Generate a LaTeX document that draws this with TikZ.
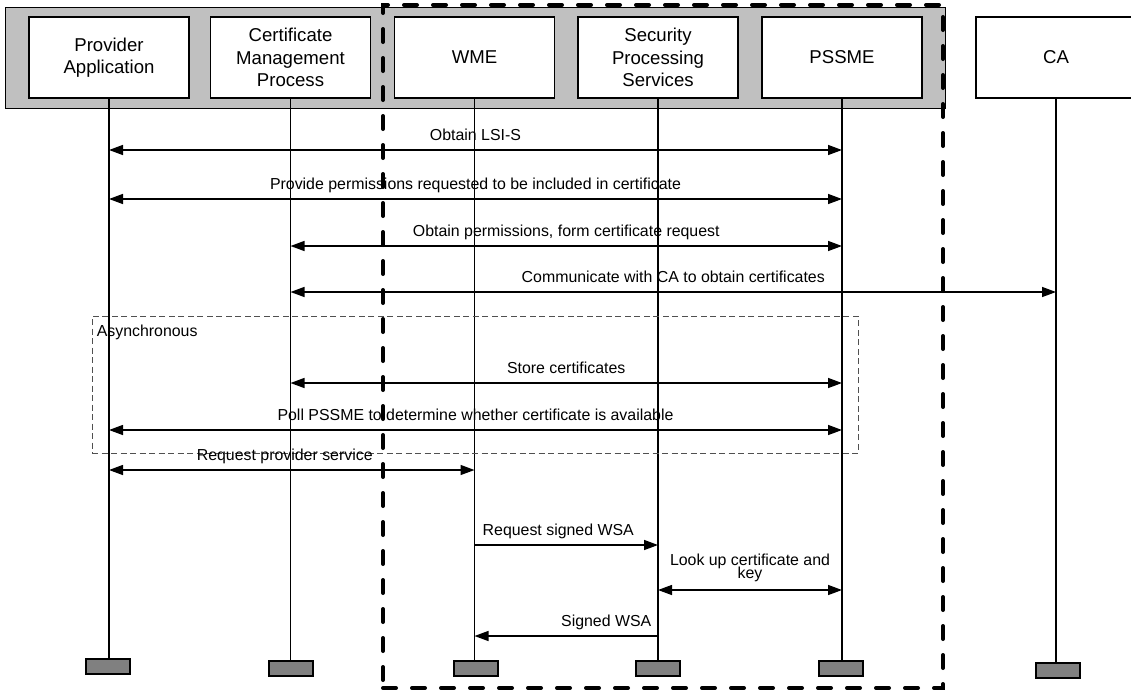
\documentclass[tikz,border=0pt]{standalone}
\usepackage{fontspec}
\setmainfont{Liberation Sans}
\usetikzlibrary{arrows.meta}
\definecolor{bandgray}{HTML}{C0C0C0}
\definecolor{bargray}{HTML}{808080}
\definecolor{asyncgray}{HTML}{505050}
\newcommand{\msgfont}{\fontsize{15.9}{12.5}\selectfont\lineskiplimit=-30pt\relax\lineskip=0pt\relax}
\begin{document}
\begin{tikzpicture}[x=1pt,y=-1pt,
  actor/.style={draw=black,line width=1.3pt,fill=white,minimum width=160pt,
    minimum height=81pt,inner sep=0pt,align=center,
    font=\fontsize{18.6}{22.5}\selectfont},
  endbar/.style={draw=black,line width=1.3pt,fill=bargray,minimum width=44pt,
    minimum height=15pt,inner sep=0pt},
  life/.style={line width=1.3pt},
  tip/.tip={Triangle[length=14pt,width=10pt]},
  both/.style={line width=1.4pt,tip-tip},
  right/.style={line width=1.4pt,-tip},
  lbl/.style={font=\msgfont,inner sep=0pt,anchor=base},
]
\useasboundingbox (0,0) rectangle (1131,691);

% grey band behind the participant heads
\node[draw=black,line width=0.8pt,fill=bandgray,minimum width=940pt,
  minimum height=101pt,inner sep=0pt] (band) at (475,57.5) {};

% participants
\node[actor] (pa)  at (109,57.5)  {Provider\\Application};
\node[actor] (cmp) at (290.5,57.5){Certificate\\Management\\Process};
\node[actor] (wme) at (474.5,57.5){WME};
\node[actor] (sps) at (658,57.5)  {Security\\Processing\\Services};
\node[actor] (ps)  at (842,57.5)  {PSSME};
\node[actor] (ca)  at (1056,57.5) {CA};

% end bars
\node[endbar] (pae)  at (108,666.5) {};
\node[endbar] (cmpe) at (291,668.5) {};
\node[endbar] (wmee) at (476,668.5) {};
\node[endbar] (spse) at (658,668.5) {};
\node[endbar] (pse)  at (841,668.5) {};
\node[endbar] (cae)  at (1058,670.5) {};

% lifelines
\draw[life] (pa.south)  -- (pa.south |- pae.north);
\draw[life] (cmp.south) -- (cmp.south |- cmpe.north);
\draw[life] (wme.south) -- (wme.south |- wmee.north);
\draw[life] (sps.south) -- (sps.south |- spse.north);
\draw[life] (ps.south)  -- (ps.south |- pse.north);
\draw[life] (ca.south)  -- (ca.south |- cae.north);

% asynchronous frame
\node[draw=asyncgray,line width=0.9pt,dash pattern=on 6pt off 3.5pt,
  minimum width=766pt,minimum height=137pt,inner sep=0pt] (async) at (475,384.5) {};
\node[lbl,anchor=base west] (asynclbl) at ([xshift=5pt,yshift=-21pt]async.north west) {Asynchronous};

% messages
\draw[both] (pa.south |- 0,150) -- node[lbl,yshift=10pt] {Obtain LSI-S} (ps.south |- 0,150);
\draw[both] (pa.south |- 0,199) -- node[lbl,yshift=10pt] {Provide permissions requested to be included in certificate} (ps.south |- 0,199);
\draw[both] (cmp.south |- 0,246) -- node[lbl,yshift=10pt] {Obtain permissions, form certificate request} (ps.south |- 0,246);
\draw[both] (cmp.south |- 0,292) -- node[lbl,yshift=10pt] {Communicate with CA to obtain certificates} (ca.south |- 0,292);
\draw[both] (cmp.south |- 0,383) -- node[lbl,yshift=10pt] {Store certificates} (ps.south |- 0,383);
\draw[both] (pa.south |- 0,430) -- node[lbl,yshift=10pt] {Poll PSSME to determine whether certificate is available} (ps.south |- 0,430);
\draw[both] (pa.south |- 0,470) -- node[lbl,yshift=10pt,xshift=-7pt] {Request provider service} (wme.south |- 0,470);
\draw[right] (wme.south |- 0,545) -- node[lbl,yshift=10pt,xshift=-8pt] {Request signed WSA} (sps.south |- 0,545);
\draw[both] (sps.south |- 0,590) -- node[lbl,anchor=south,align=center,yshift=8pt] {Look up certificate and\\key} (ps.south |- 0,590);
\draw[right] (sps.south |- 0,636) -- node[lbl,anchor=base east,pos=0,xshift=-6pt,yshift=10pt] {Signed WSA} (wme.south |- 0,636);

% thick dashed group boundary
\node[draw=black,line width=4pt,line cap=round,dash pattern=on 13pt off 16pt,
  minimum width=560pt,minimum height=683pt,inner sep=0pt] (group) at (663,346.5) {};
\end{tikzpicture}
\end{document}
